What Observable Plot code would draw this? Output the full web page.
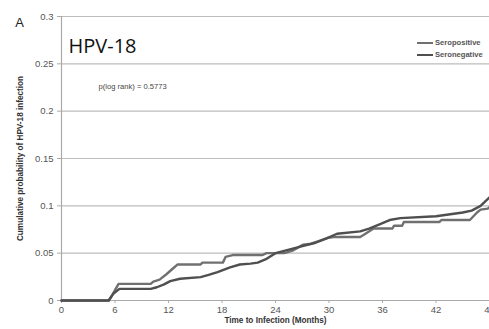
<!DOCTYPE html>
<html>
<head>
<meta charset="utf-8">
<script src="https://cdn.jsdelivr.net/npm/d3@7"></script>
<script src="https://cdn.jsdelivr.net/npm/@observablehq/plot@0.6"></script>
<style>
  html, body { margin: 0; padding: 0; background: #fff; overflow: hidden; }
  #wrap { position: relative; width: 489px; height: 329px; overflow: hidden; }
  #wrap svg { max-width: none !important; }
  .leg { position: absolute; left: 417px; font: bold 7.6px "Liberation Sans", Arial, sans-serif; color: #555; display: flex; align-items: center; }
  .leg .sw { display: inline-block; width: 16px; height: 0; border-top: 2px solid; margin-right: 2px; }
</style>
</head>
<body>
<div id="wrap"></div>
<script>
// Series: Kaplan-Meier style cumulative probability of HPV-18 infection
const seroposMonths = [0, 5.3, 5.7, 6, 6.4, 10.0, 10.3, 11.0, 11.8, 12.4, 13.0, 15.6, 15.8, 18.1, 18.4, 19.2, 21, 22.5, 23, 25, 26, 27.1, 28, 29.8, 30.5, 33.5, 34, 35, 35.8, 37.1, 37.3, 38.2, 38.4, 42.4, 42.6, 45.8, 46.6, 47.0, 47.8, 48];
const seroposProb   = [0, 0, 0.006, 0.011, 0.0176, 0.0176, 0.020, 0.022, 0.028, 0.033, 0.038, 0.038, 0.040, 0.040, 0.046, 0.048, 0.048, 0.048, 0.050, 0.050, 0.053, 0.059, 0.060, 0.066, 0.067, 0.067, 0.070, 0.076, 0.076, 0.076, 0.079, 0.079, 0.083, 0.083, 0.085, 0.085, 0.093, 0.096, 0.097, 0.0986];
const seronegMonths = [0, 5.3, 5.8, 6.5, 10.0, 10.7, 11.5, 12.2, 13.3, 15.6, 16.5, 17.5, 18.9, 20.0, 21.2, 22, 23, 24, 26.8, 28.5, 29.8, 30.9, 33.5, 34.5, 35.8, 36.8, 38.0, 42.0, 45.0, 46.0, 47.0, 48];
const seronegProb   = [0, 0, 0.007, 0.0123, 0.0123, 0.014, 0.017, 0.0204, 0.023, 0.0247, 0.027, 0.030, 0.035, 0.038, 0.039, 0.040, 0.044, 0.050, 0.057, 0.061, 0.066, 0.0705, 0.073, 0.076, 0.081, 0.085, 0.087, 0.089, 0.093, 0.095, 0.100, 0.109];
const seriesNames = ["Seropositive", "Seronegative"];
const xTicks = [0, 6, 12, 18, 24, 30, 36, 42, 48];
const yTicks = [0, 0.05, 0.1, 0.15, 0.2, 0.25, 0.3];
const panelLabel = "A";
const chartTitle = "HPV-18";
const pText = "p(log rank) = 0.5773";
const xLabel = "Time to Infection (Months)";
const yLabel = "Cumulative probability of HPV-18 infection";

const colors = ["#707070", "#4f4f4f"];
const rows = [
  ...seroposMonths.map((m, i) => ({month: m, p: seroposProb[i], s: seriesNames[0]})),
  ...seronegMonths.map((m, i) => ({month: m, p: seronegProb[i], s: seriesNames[1]}))
];

const font = '"Liberation Sans", Arial, sans-serif';
const chart = Plot.plot({
  width: 500,
  height: 329,
  marginLeft: 61,
  marginRight: 11,
  marginTop: 16,
  marginBottom: 29,
  style: {fontFamily: font, background: "#fff", maxWidth: "none"},
  x: {domain: [0, 48], ticks: xTicks},
  y: {domain: [0, 0.3], ticks: yTicks},
  color: {domain: seriesNames, range: colors},
  marks: [
    Plot.gridY(yTicks, {stroke: "#bdbdbd", strokeOpacity: 1, strokeWidth: 1.2}),
    Plot.ruleX([0], {stroke: "#aaa", strokeWidth: 1.2}),
    Plot.ruleY([0], {stroke: "#aaa", strokeWidth: 1.2}),
    Plot.axisX(xTicks, {tickSize: 3, tickPadding: 3, stroke: "#aaa", fill: "#555", fontSize: 9.5, label: null}),
    Plot.axisY(yTicks, {tickSize: 4, tickPadding: 4, stroke: "#aaa", fill: "#555", fontSize: 9.5, tickFormat: d => String(d), label: null}),
    Plot.line(rows, {x: "month", y: "p", z: "s", stroke: "s", strokeWidth: 2.4}),
    Plot.text([xLabel], {frameAnchor: "bottom", dy: 22, textAnchor: "middle", text: d => d, fontWeight: "bold", fontSize: 8.2, fill: "#333"}),
    Plot.text([yLabel], {frameAnchor: "left", dx: -41, rotate: -90, textAnchor: "middle", text: d => d, fontWeight: "bold", fontSize: 8.2, fill: "#333"}),
    Plot.text([panelLabel], {frameAnchor: "top-left", dx: -42, dy: 1, textAnchor: "middle", text: d => d, fontSize: 13, fill: "#222"}),
    Plot.text([chartTitle], {frameAnchor: "top-left", dx: 7, dy: 22, textAnchor: "start", text: d => d, fontSize: 20, fontFamily: '"Open Sans", sans-serif', fill: "#111"}),
    Plot.text([pText], {frameAnchor: "top-left", dx: 37, dy: 67, textAnchor: "start", text: d => d, fontSize: 7.6, fill: "#444"})
  ]
});
const wrap = document.getElementById("wrap");
wrap.appendChild(chart);
[[seriesNames[0], colors[0], 38], [seriesNames[1], colors[1], 50]].forEach(([name, c, top]) => {
  const d = document.createElement("div");
  d.className = "leg";
  d.style.top = top + "px";
  const sw = document.createElement("span");
  sw.className = "sw";
  sw.style.borderColor = c;
  d.appendChild(sw);
  d.appendChild(document.createTextNode(name));
  wrap.appendChild(d);
});
</script>
</body>
</html>
